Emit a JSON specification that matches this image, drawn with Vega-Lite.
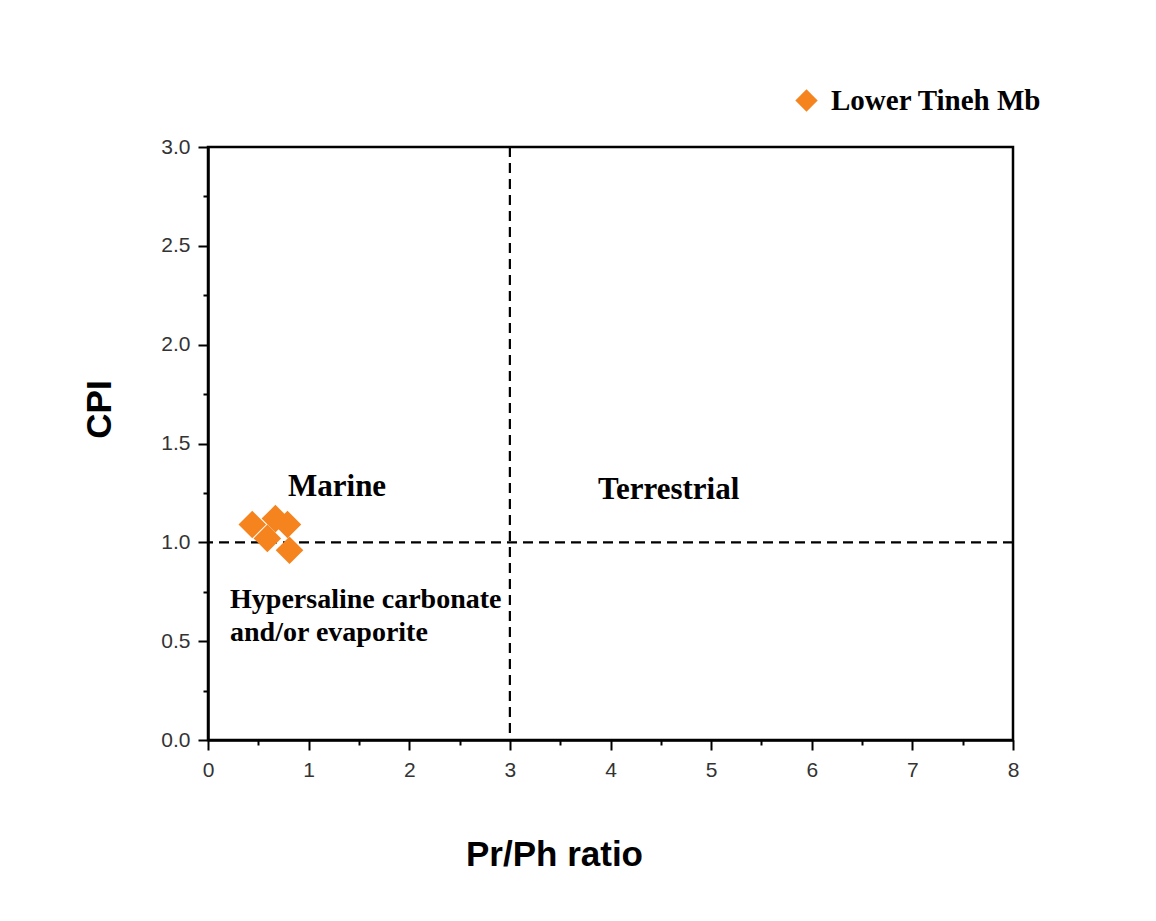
{
  "$schema": "https://vega.github.io/schema/vega-lite/v6.json",
  "autosize": {"type": "none"},
  "width": 805,
  "height": 593,
  "padding": {"left": 208, "top": 147, "right": 143, "bottom": 181},
  "background": "white",
  "config": {
    "view": {"stroke": "black", "strokeWidth": 2.5},
    "axis": {
      "grid": false,
      "domainColor": "black",
      "domainWidth": 2.5,
      "tickColor": "black",
      "tickWidth": 2,
      "labelFlush": false,
      "labelFont": "Liberation Sans",
      "labelFontSize": 21,
      "labelColor": "#333333",
      "titleFont": "Liberation Sans",
      "titleFontWeight": "bold",
      "titleFontSize": 35,
      "titleColor": "black"
    },
    "legend": {
      "labelFont": "Liberation Serif",
      "labelFontWeight": "bold",
      "labelFontSize": 29,
      "labelColor": "black",
      "labelLimit": 0,
      "symbolType": "diamond",
      "symbolSize": 500,
      "labelOffset": 10
    }
  },
  "datasets": {
    "samples": [
      {"pr_ph": 0.44, "cpi": 1.09, "unit": "Lower Tineh Mb"},
      {"pr_ph": 0.67, "cpi": 1.12, "unit": "Lower Tineh Mb"},
      {"pr_ph": 0.79, "cpi": 1.09, "unit": "Lower Tineh Mb"},
      {"pr_ph": 0.59, "cpi": 1.02, "unit": "Lower Tineh Mb"},
      {"pr_ph": 0.81, "cpi": 0.96, "unit": "Lower Tineh Mb"}
    ],
    "cutoffs_x": [{"pr_ph": 3}],
    "cutoffs_y": [{"cpi": 1}],
    "zones": [
      {"pr_ph": 0.795, "cpi": 1.28, "label": "Marine", "size": 31},
      {"pr_ph": 3.877, "cpi": 1.265, "label": "Terrestrial", "size": 31},
      {"pr_ph": 0.219, "cpi": 0.708, "label": "Hypersaline carbonate", "size": 28},
      {"pr_ph": 0.219, "cpi": 0.541, "label": "and/or evaporite", "size": 28}
    ]
  },
  "layer": [
    {
      "data": {"name": "cutoffs_x"},
      "mark": {"type": "rule", "color": "black", "strokeWidth": 2.2, "strokeDash": [10, 6]},
      "encoding": {
        "x": {"field": "pr_ph", "type": "quantitative"}
      }
    },
    {
      "data": {"name": "cutoffs_y"},
      "mark": {"type": "rule", "color": "black", "strokeWidth": 2.2, "strokeDash": [10, 6]},
      "encoding": {
        "y": {"field": "cpi", "type": "quantitative"}
      }
    },
    {
      "data": {"name": "zones"},
      "mark": {"type": "text", "align": "left", "baseline": "middle", "font": "Liberation Serif", "fontWeight": "bold", "color": "black"},
      "encoding": {
        "x": {"field": "pr_ph", "type": "quantitative"},
        "y": {"field": "cpi", "type": "quantitative"},
        "text": {"field": "label"},
        "size": {"field": "size", "type": "quantitative", "scale": null}
      }
    },
    {
      "data": {"name": "samples"},
      "mark": {"type": "point", "shape": "diamond", "filled": true, "opacity": 1, "size": 760},
      "encoding": {
        "x": {
          "field": "pr_ph",
          "type": "quantitative",
          "title": "Pr/Ph ratio",
          "scale": {"domain": [0, 8], "nice": false, "zero": false},
          "axis": {
            "values": [0, 0.5, 1, 1.5, 2, 2.5, 3, 3.5, 4, 4.5, 5, 5.5, 6, 6.5, 7, 7.5, 8],
            "labelExpr": "datum.value % 1 === 0 ? format(datum.value, 'd') : ''",
            "tickSize": {"condition": {"test": "datum.value % 1 !== 0", "value": 5}, "value": 10},
            "labelPadding": 9,
            "titleX": 346,
            "titleY": 125,
            "titleBaseline": "alphabetic",
            "titleAnchor": "middle"
          }
        },
        "y": {
          "field": "cpi",
          "type": "quantitative",
          "title": "CPI",
          "scale": {"domain": [0, 3], "nice": false, "zero": false},
          "axis": {
            "values": [0, 0.25, 0.5, 0.75, 1, 1.25, 1.5, 1.75, 2, 2.25, 2.5, 2.75, 3],
            "labelExpr": "(datum.value * 2) % 1 === 0 ? format(datum.value, '.1f') : ''",
            "tickSize": {"condition": {"test": "(datum.value * 2) % 1 !== 0", "value": 5}, "value": 10},
            "labelPadding": 8,
            "titleX": -109,
            "titleY": 262,
            "titleAngle": -90,
            "titleBaseline": "middle",
            "titleAlign": "center"
          }
        },
        "color": {
          "field": "unit",
          "type": "nominal",
          "scale": {"range": ["#f5841f"]},
          "legend": {"title": null, "orient": "none", "legendX": 584, "legendY": -61}
        }
      }
    }
  ]
}
